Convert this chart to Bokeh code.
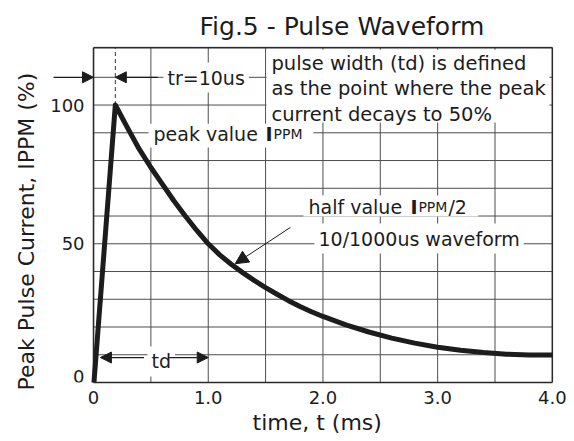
from bokeh.plotting import figure
from bokeh.models import Range1d, FixedTicker, Label, Arrow, NormalHead, BoxAnnotation, Title
from bokeh.embed import file_html
from bokeh.resources import INLINE

FONT = "DejaVu Sans"
INK = "#1c1c1c"
GRID = "#4d4d4d"
FRAME = "#2a2a2a"

# 10/1000us waveform: time (ms) vs current (% of IPPM)
t_ms = [0.00, 0.19, 0.30, 0.40, 0.50, 0.60, 0.70, 0.80, 0.90, 1.00, 1.10, 1.20,
        1.30, 1.40, 1.50, 1.60, 1.70, 1.80, 1.90, 2.00, 2.20, 2.40, 2.60, 2.80,
        3.00, 3.20, 3.40, 3.60, 3.80, 4.00]
i_pct = [-2, 100, 91.5, 84, 77.5, 71.5, 65.5, 60, 54.8, 50, 46, 42.6,
         39.6, 36.8, 34.2, 31.8, 29.5, 27.4, 25.5, 23.8, 20.8, 18.2, 16.0, 14.2,
         12.7, 11.6, 10.8, 10.2, 9.9, 9.9]

x_ticks = [0, 1, 2, 3, 4]
x_tick_labels = ["0", "1.0", "2.0", "3.0", "4.0"]
y_ticks = [0, 50, 100]
y_tick_labels = ["0", "50", "100"]
x_grid = [0.5, 1.0, 1.5, 2.0, 2.5, 3.0, 3.5]
y_grid = [10, 20, 30, 40, 50, 60, 70, 80, 90, 100, 110]

td_ms = 1.0          # pulse width marker (50 % point)
tr_level = 110       # level of the tr=10us dimension arrows
td_level = 9         # level of the td dimension arrows

X_MIN, X_MAX = 0.0, 4.0          # chart box
Y_MIN, Y_MAX = 0.0, 120.7
X_VIEW = (-0.41, 4.01)           # visible range (room for the outer tr arrow)
Y_VIEW = (0.0, 121.1)

peak_idx = i_pct.index(max(i_pct))
tr_ms = t_ms[peak_idx]

p = figure(frame_width=507, frame_height=336,
           x_range=Range1d(*X_VIEW), y_range=Range1d(*Y_VIEW),
           output_backend="svg", toolbar_location=None,
           min_border_left=46, min_border_right=19,
           min_border_top=46, min_border_bottom=58)

p.background_fill_color = "white"
p.border_fill_color = "white"
p.outline_line_color = None
p.xgrid.grid_line_color = None
p.ygrid.grid_line_color = None

# title
p.title.text = "Fig.5 -  Pulse Waveform"
p.title.text_font = FONT
p.title.text_font_size = "25px"
p.title.text_font_style = "normal"
p.title.text_color = INK
p.title.align = "left"
p.title.offset = 153
p.title.standoff = 12

# x axis (its line is the bottom edge of the chart box)
xa = p.xaxis[0]
xa.ticker = FixedTicker(ticks=x_ticks, minor_ticks=[])
xa.major_label_overrides = {t: s for t, s in zip(x_ticks, x_tick_labels)}
xa.bounds = (X_MIN, X_MAX)
xa.axis_line_color = FRAME
xa.axis_line_width = 1.6
xa.major_tick_line_color = None
xa.minor_tick_line_color = None
xa.major_tick_out = 0
xa.major_label_text_font = FONT
xa.major_label_text_font_size = "18px"
xa.major_label_text_color = INK
xa.major_label_standoff = 8

# y axis: its tick values are written at t = 0 below
ya = p.yaxis[0]
ya.ticker = FixedTicker(ticks=[], minor_ticks=[])
ya.axis_line_color = None
ya.major_tick_line_color = None
ya.minor_tick_line_color = None
ya.major_tick_out = 0
ya.major_label_standoff = 0

for v, s in zip(y_ticks, y_tick_labels):
    p.add_layout(Label(x=X_MIN, y=v, text=s, x_offset=-9,
                       text_font=FONT, text_font_size="18px", text_color=INK,
                       text_align="right",
                       text_baseline="bottom" if v == Y_MIN else "middle"))

# axis titles, placed as side titles so they can be positioned like the original
p.add_layout(Title(text="time, t (ms)", align="left", offset=206, standoff=2,
                   text_font=FONT, text_font_size="22px", text_font_style="normal",
                   text_color=INK), "below")
p.add_layout(Title(text="Peak Pulse Current, IPPM (%)", align="left", offset=-8, standoff=12,
                   vertical_align="top",
                   text_font=FONT, text_font_size="22px", text_font_style="normal",
                   text_color=INK), "left")

# grid lines (drawn from the grid arrays)
p.segment(x0=x_grid, y0=[Y_MIN] * len(x_grid), x1=x_grid, y1=[Y_MAX] * len(x_grid),
          line_color=GRID, line_width=1)
p.segment(x0=[X_MIN] * len(y_grid), y0=y_grid, x1=[X_MAX] * len(y_grid), y1=y_grid,
          line_color=GRID, line_width=1)

# chart box: left, right and top edges
p.segment(x0=[X_MIN, X_MAX, X_MIN], y0=[Y_MIN, Y_MIN, Y_MAX],
          x1=[X_MIN, X_MAX, X_MAX], y1=[Y_MAX, Y_MAX, Y_MAX],
          line_color=FRAME, line_width=1.6)

# dashed marker at the peak (tr)
p.segment(x0=[tr_ms], y0=[max(i_pct)], x1=[tr_ms], y1=[Y_MAX],
          line_color="#333333", line_width=1, line_dash="4 3")

# waveform
p.line(t_ms, i_pct, line_width=5, line_color=INK, line_join="round")

# white knock-out boxes behind the annotation texts
for l, r, b, t in [(1.508, 3.974, 93.7, 119.9),   # definition block
                   (0.479, 1.917, 84.7, 93.3),    # peak value IPPM
                   (1.830, 3.355, 59.8, 67.4)]:   # half value IPPM/2
    p.add_layout(BoxAnnotation(left=l, right=r, bottom=b, top=t,
                               fill_color="white", fill_alpha=1.0,
                               line_color=None))


def label(text, x, y, size="19px", style="normal", baseline="alphabetic", bg=False, **extra):
    kw = dict(x=x, y=y, text=text, text_font=FONT, text_font_size=size,
              text_font_style=style, text_color=INK, text_align="left",
              text_baseline=baseline)
    if bg:
        kw.update(background_fill_color="white", background_fill_alpha=1.0, padding=4)
    kw.update(extra)
    p.add_layout(Label(**kw))


label("tr=10us", 0.61, 109.9, bg=True)
label("pulse width (td) is defined\nas the point where the peak\ncurrent decays to 50%",
      1.551, 119.1, size="19.5px", baseline="top", text_line_height=1.1)
label("peak value", 0.523, 89.4)
label("I", 1.499, 89.4, style="bold")
label("PPM", 1.569, 89.4, size="14px")
label("half value", 1.874, 63.4)
label("I", 2.763, 63.4, style="bold")
label("PPM", 2.832, 63.4, size="14px")
label("/2", 3.094, 63.4)
label("10/1000us waveform", 1.926, 51.9, bg=True)
label("td", 0.471, 7.6, bg=True)


def arrow(x0, y0, x1, y1, size=11, width=1.3):
    p.add_layout(Arrow(end=NormalHead(size=size, fill_color=INK, line_color=INK),
                       x_start=x0, y_start=y0, x_end=x1, y_end=y1,
                       line_color=INK, line_width=width))


arrow(-0.349, tr_level, X_MIN, tr_level)
arrow(0.56, tr_level, tr_ms, tr_level)
arrow(0.44, td_level, 0.06, td_level)
arrow(0.66, td_level, td_ms, td_level)
arrow(1.717, 55.9, 1.235, 42.8, size=13, width=1)

open("out.html", "w").write(file_html(p, INLINE))
